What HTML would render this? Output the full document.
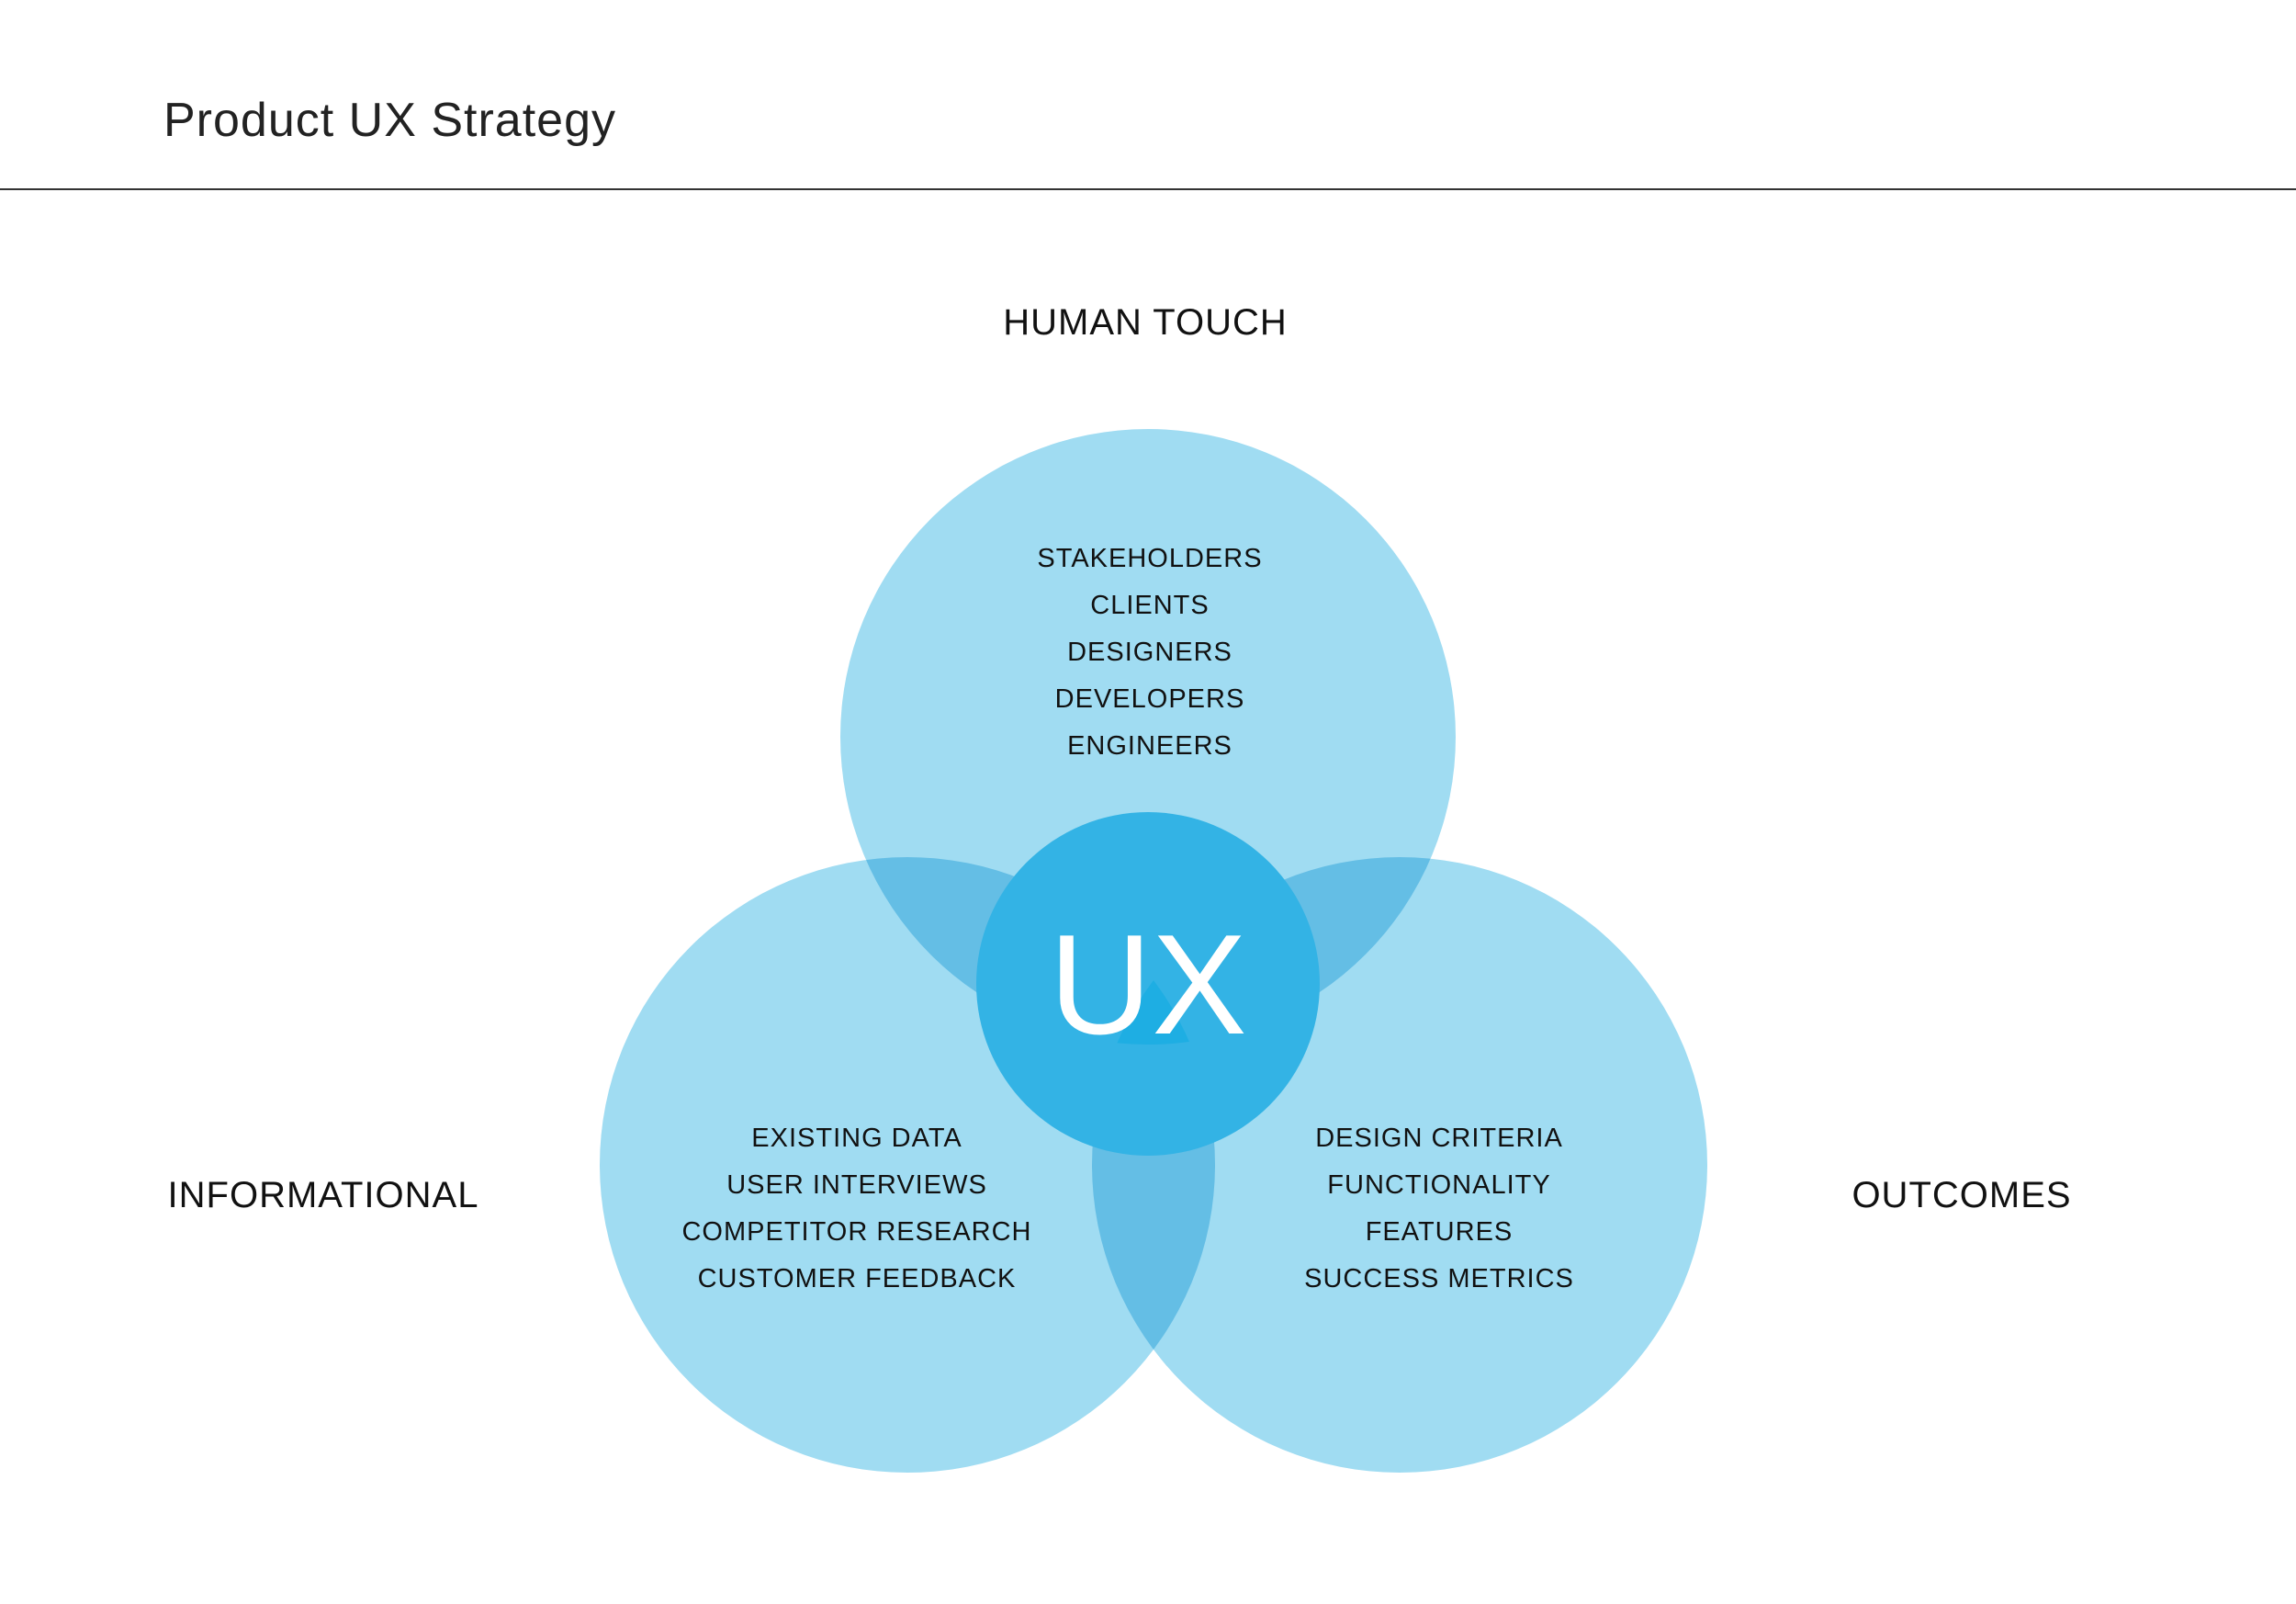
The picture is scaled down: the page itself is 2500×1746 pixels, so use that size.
<!DOCTYPE html>
<html><head><meta charset="utf-8"><style>
html,body{margin:0;padding:0;background:#fff}
svg{display:block}
text{font-family:"Liberation Sans",sans-serif}
</style></head><body>
<svg width="2500" height="1746" viewBox="0 0 2500 1746" xmlns="http://www.w3.org/2000/svg">
<defs>
<clipPath id="ct"><circle cx="1250" cy="802" r="335"/></clipPath>
<clipPath id="cl"><circle cx="988" cy="1268" r="335"/></clipPath>
</defs>
<rect width="2500" height="1746" fill="#fff"/>
<text x="178" y="148" font-size="52" fill="#222" letter-spacing="1">Product UX Strategy</text>
<line x1="0" y1="206" x2="2500" y2="206" stroke="#333" stroke-width="2"/>
<g style="isolation:isolate">
<circle cx="1250" cy="802" r="335" fill="#a0dcf2" style="mix-blend-mode:multiply"/>
<circle cx="988" cy="1268" r="335" fill="#a0dcf2" style="mix-blend-mode:multiply"/>
<circle cx="1524" cy="1268" r="335" fill="#a0dcf2" style="mix-blend-mode:multiply"/>
</g>
<circle cx="1250" cy="1071" r="187" fill="#33b3e5"/>
<g clip-path="url(#ct)"><g clip-path="url(#cl)"><circle cx="1524" cy="1268" r="335" fill="#1eaee3"/></g></g>
<text x="1250" y="1125" font-size="155" fill="#fff" text-anchor="middle">UX</text>
<g font-size="40" fill="#111" text-anchor="middle" letter-spacing="1">
<text x="1247" y="364">HUMAN TOUCH</text>
<text x="352" y="1314">INFORMATIONAL</text>
<text x="2136" y="1314">OUTCOMES</text>
</g>
<g font-size="29" fill="#111" text-anchor="middle" letter-spacing="1">
<text x="1252" y="617">STAKEHOLDERS</text>
<text x="1252" y="668">CLIENTS</text>
<text x="1252" y="719">DESIGNERS</text>
<text x="1252" y="770">DEVELOPERS</text>
<text x="1252" y="821">ENGINEERS</text>
<text x="933" y="1248">EXISTING DATA</text>
<text x="933" y="1299">USER INTERVIEWS</text>
<text x="933" y="1350">COMPETITOR RESEARCH</text>
<text x="933" y="1401">CUSTOMER FEEDBACK</text>
<text x="1567" y="1248">DESIGN CRITERIA</text>
<text x="1567" y="1299">FUNCTIONALITY</text>
<text x="1567" y="1350">FEATURES</text>
<text x="1567" y="1401">SUCCESS METRICS</text>
</g>
</svg>
</body></html>
